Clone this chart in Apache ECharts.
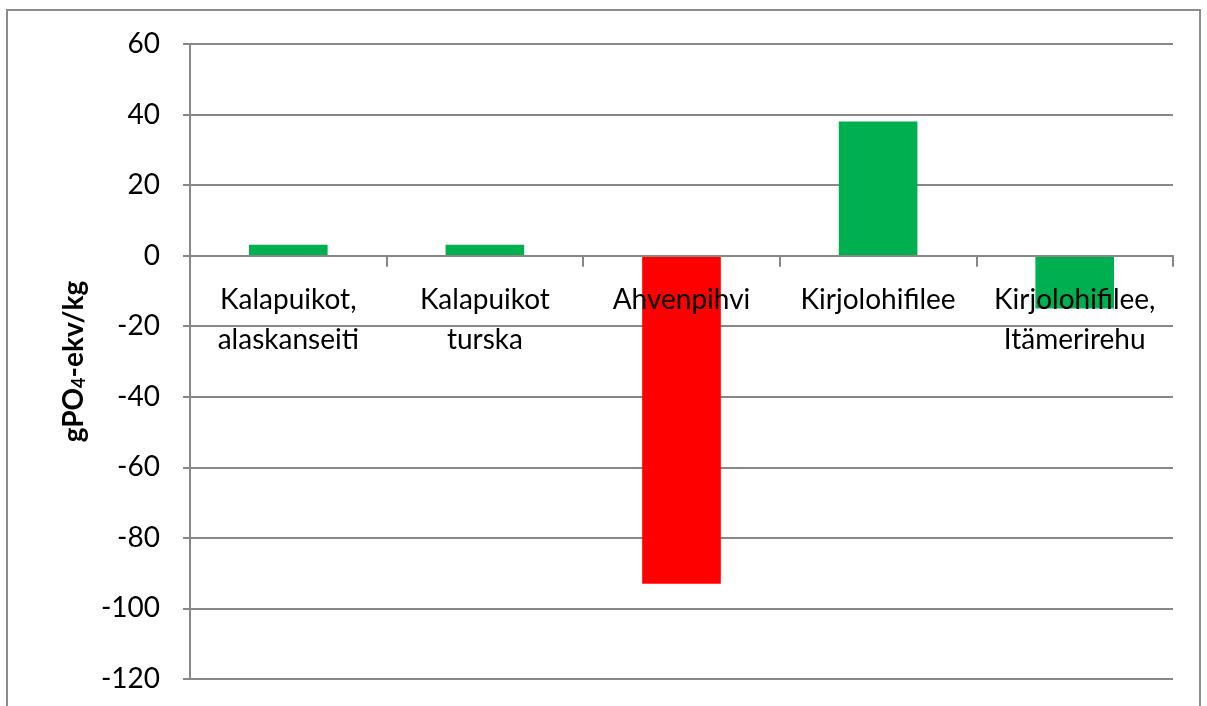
<!DOCTYPE html>
<html>
<head>
<meta charset="utf-8">
<script src="https://cdn.jsdelivr.net/npm/echarts@6/dist/echarts.min.js"></script>
<style>
  html, body { margin: 0; padding: 0; background: #fff; }
  #chart { width: 1207px; height: 706px; }
</style>
</head>
<body>
<div id="chart"></div>
<script>
// kategoriat ja arvot
const categories = [
  'Kalapuikot,\nalaskanseiti',
  'Kalapuikot\nturska',
  'Ahvenpihvi',
  'Kirjolohifilee',
  'Kirjolohifilee,\nItämerirehu'
]
const values = [3.1, 3.1, -93, 38, -15]
const barColors = ['#00b050', '#00b050', '#ff0000', '#00b050', '#00b050']

const yMin = -120
const yMax = 60
const yStep = 20

const gridTop = 44
const gridBottom = 27
const chartHeight = 706
// x-akseli nollatasolle: siirto alareunasta
const plotHeight = chartHeight - gridTop - gridBottom
const zeroOffset = plotHeight * (0 - yMin) / (yMax - yMin)

const chart = echarts.init(document.getElementById('chart'))
const font = 'Lato, Open Sans, sans-serif'

chart.setOption({
  animation: false,
  graphic: [
    {
      type: 'rect',
      shape: { x: 7, y: 10, width: 1193, height: 710 },
      style: { fill: 'none', stroke: '#8c8c8c', lineWidth: 2 }
    }
  ],
  grid: {
    left: 190,
    right: 34,
    top: gridTop,
    bottom: gridBottom,
    containLabel: false,
    outerBoundsMode: 'none'
  },
  xAxis: {
    type: 'category',
    data: categories,
    position: 'bottom',
    offset: -zeroOffset,
    axisLine: { onZero: false, lineStyle: { color: '#878787', width: 2 } },
    axisTick: { show: true, length: 11, lineStyle: { color: '#878787', width: 2 } },
    axisLabel: {
      color: '#000',
      fontSize: 28,
      fontFamily: font,
      lineHeight: 40,
      margin: 24,
      interval: 0
    },
    z: 10
  },
  yAxis: {
    type: 'value',
    min: yMin,
    max: yMax,
    interval: yStep,
    name: '{n|gPO}{s|4}{n|-ekv/kg}',
    nameLocation: 'middle',
    nameRotate: 90,
    nameGap: 102,
    nameTextStyle: {
      rich: {
        n: { fontSize: 28, fontWeight: 'bold', fontFamily: font, color: '#000' },
        s: { fontSize: 18, fontWeight: 'bold', fontFamily: font, color: '#000', padding: [10, 0, 0, 0] }
      }
    },
    axisLine: { show: true, lineStyle: { color: '#878787', width: 2 } },
    axisTick: { show: true, length: 7, lineStyle: { color: '#878787', width: 2 } },
    axisLabel: { color: '#000', fontSize: 28, fontFamily: font, margin: 30 },
    splitLine: { lineStyle: { color: '#878787', width: 2 } }
  },
  series: [
    {
      type: 'bar',
      barWidth: '40%',
      data: values.map((v, i) => ({ value: v, itemStyle: { color: barColors[i] } }))
    }
  ]
})
</script>
</body>
</html>
